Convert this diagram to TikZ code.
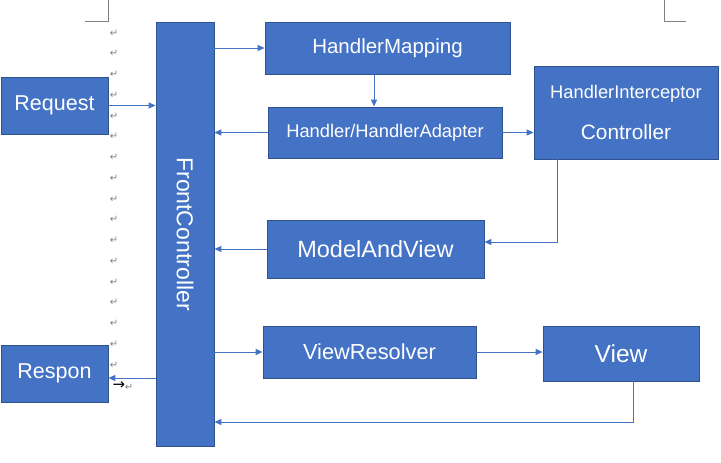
\documentclass[tikz,border=0pt]{standalone}
\usepackage{fontspec}
\setmainfont{Liberation Sans}
\newfontfamily\symfont{DejaVu Sans}
\usetikzlibrary{arrows.meta}
\definecolor{boxblue}{HTML}{4472C4}
\definecolor{boxedge}{HTML}{2F528F}
\newcommand{\fsz}[1]{\fontsize{#1}{#1}\selectfont}
\tikzset{
  box/.style={rectangle, draw=boxedge, fill=boxblue, text=white, line width=0.8pt, inner sep=0pt},
  link/.style={draw=boxblue, line width=1pt, -{Triangle[length=7pt,width=6pt]}},
  parmark/.style={text=gray, font=\symfont\fsz{10}, inner sep=0pt}
}

\begin{document}
\begin{tikzpicture}[x=1pt,y=-1pt]
  \useasboundingbox (0,0) rectangle (721,463);
  \draw[gray, line width=0.6pt] (85,21) -- (108,21) -- (108,0);
  \draw[gray, line width=0.6pt] (664,0) -- (664,21) -- (686,21);
  \foreach \i in {0,...,16}
    \node[parmark] (pm\i) at (114,{33+20.75*\i}) {↵};
  \node[text=black, font=\symfont\fsz{15}, inner sep=0pt] (tabarrow) at (119,386) {→};
  \node[parmark] (pmlast) at (129,387) {↵};
  \begin{scope}[every node/.style={box}]
    \node[minimum width=107, minimum height=57, font=\fsz{21.5}] (Req) at (54.5,105.5) {Request};
    \node[minimum width=107, minimum height=57, font=\fsz{21.5}] (Resp) at (54.5,373.5) {Respon};
    \node[minimum width=58, minimum height=424, font=\fsz{23}] (FC) at (185,234) {\rotatebox[origin=c]{-90}{FrontController}};
    \node[minimum width=245, minimum height=52, font=\fsz{20.5}] (HM) at (387.5,48) {HandlerMapping};
    \node[minimum width=234, minimum height=51, font=\fsz{18.3}] (HHA) at (385,132.5) {Handler/HandlerAdapter};
    \node[minimum width=184, minimum height=93, align=center, font=\fsz{18.3}] (Ctrl) at (626,112.5) {HandlerInterceptor\\[22pt]{\fsz{20.8}Controller}};
    \node[minimum width=217, minimum height=58, font=\fsz{23.5}] (MAV) at (375.5,249) {ModelAndView};
    \node[minimum width=213, minimum height=52, font=\fsz{21.8}] (VR) at (369.5,352) {ViewResolver};
    \node[minimum width=156, minimum height=55, font=\fsz{24.5}] (View) at (621,353.5) {View};
  \end{scope}
  \draw[link] (FC.east |- HM.west) -- (HM.west);
  \draw[link] ([xshift=-13.5pt]HM.south) -- ([xshift=-13.5pt]HM.south |- HHA.north);
  \draw[link] (HHA.west) -- (HHA.west -| FC.east);
  \draw[link] (HHA.east) -- (HHA.east -| Ctrl.west);
  \draw[link] ([xshift=-69pt]Ctrl.south) |- ([yshift=7pt]MAV.east);
  \draw[link] (MAV.west) -- (MAV.west -| FC.east);
  \draw[link] (FC.east |- VR.west) -- (VR.west);
  \draw[link] (VR.east) -- (VR.east -| View.west);
  \draw[link] ([xshift=12pt]View.south) |- ([yshift=-188pt]FC.east);
  \draw[link] (Req.east) -- (Req.east -| FC.west);
  \draw[link] ([yshift=-4.5pt]FC.west |- Resp.east) -- ([yshift=-4.5pt]Resp.east);
\end{tikzpicture}
\end{document}
